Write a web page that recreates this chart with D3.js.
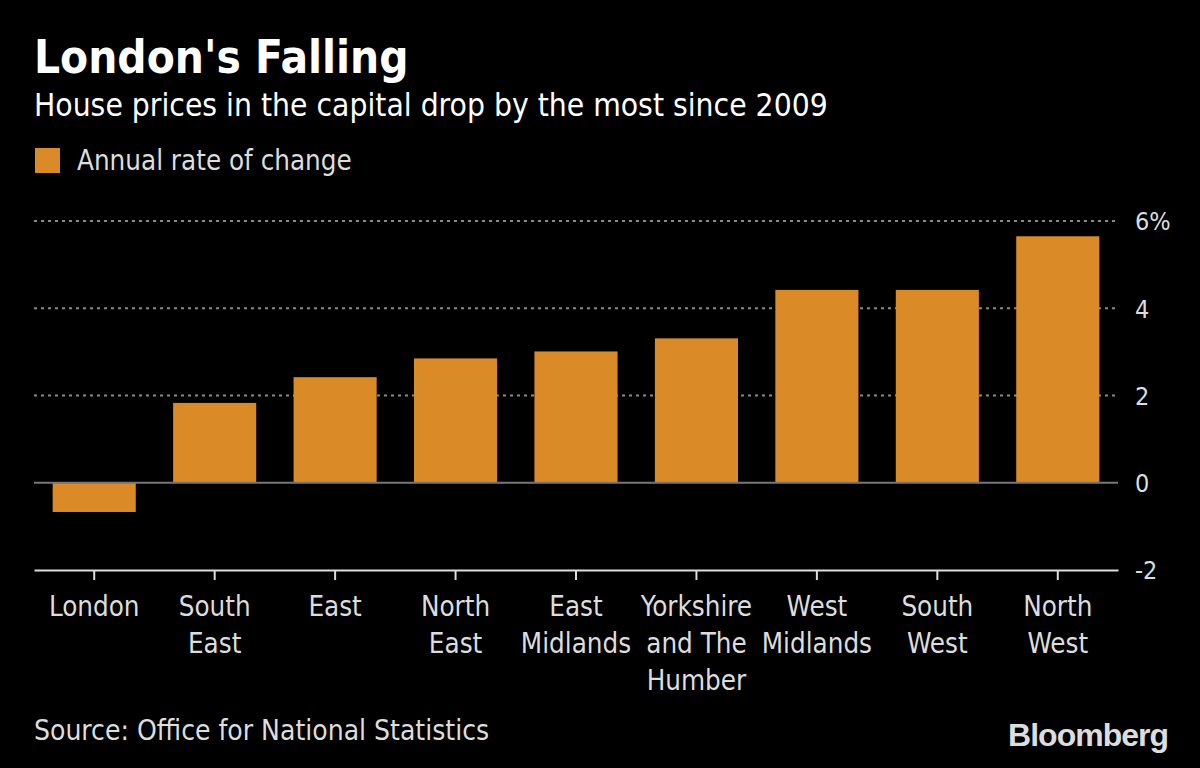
<!DOCTYPE html>
<html>
<head>
<meta charset="utf-8">
<script src="https://cdn.jsdelivr.net/npm/d3@7"></script>
<style>
  html, body { margin: 0; padding: 0; background: #000; }
  svg { display: block; }
</style>
</head>
<body>
<script>
const categories = [
  ["London"],
  ["South", "East"],
  ["East"],
  ["North", "East"],
  ["East", "Midlands"],
  ["Yorkshire", "and The", "Humber"],
  ["West", "Midlands"],
  ["South", "West"],
  ["North", "West"]
];
const values = [-0.67, 1.83, 2.42, 2.85, 3.01, 3.31, 4.42, 4.42, 5.65];
const yTicks = [-2, 0, 2, 4, 6];
const yTickLabels = ["-2", "0", "2", "4", "6%"];

const W = 1200, H = 768;
const font = "'Liberation Sans Narrow', 'DejaVu Sans Condensed', 'Open Sans', sans-serif";
const svg = d3.select("body").append("svg").attr("width", W).attr("height", H)
  .style("background", "#000");

const keys = categories.map(c => c.join(" "));
const x = d3.scaleBand().domain(keys).range([34, 1118]).paddingInner(0.31).paddingOuter(0.155);
const y = d3.scaleLinear().domain([-2, 6]).range([570, 221]);

// title
svg.append("text").attr("x", 34).attr("y", 73).text("London's Falling")
  .attr("fill", "#fff").attr("font-family", font).attr("font-weight", "bold").attr("font-size", 45.5);
svg.append("text").attr("x", 34).attr("y", 116).text("House prices in the capital drop by the most since 2009")
  .attr("fill", "#fff").attr("font-family", font).attr("font-size", 31.5);

// legend
svg.append("rect").attr("x", 35).attr("y", 148).attr("width", 25).attr("height", 25).attr("fill", "#DA8A27");
svg.append("text").attr("x", 77).attr("y", 170).text("Annual rate of change")
  .attr("fill", "#ddd").attr("font-family", font).attr("font-size", 27.5);

// gridlines
const grid = yTicks.filter(t => t > 0);
svg.append("g").selectAll("line").data(grid).join("line")
  .attr("x1", 34).attr("x2", 1118)
  .attr("y1", d => y(d)).attr("y2", d => y(d))
  .attr("stroke", "#8a8a8a").attr("stroke-width", 2).attr("stroke-dasharray", "3,4");

// bars
svg.append("g").selectAll("rect").data(values).join("rect")
  .attr("x", (d, i) => x(keys[i]))
  .attr("width", x.bandwidth())
  .attr("y", d => y(Math.max(0, d)))
  .attr("height", d => Math.abs(y(d) - y(0)))
  .attr("fill", "#DA8A27");

// zero line
svg.append("line").attr("x1", 34).attr("x2", 1118).attr("y1", y(0)).attr("y2", y(0))
  .attr("stroke", "#777").attr("stroke-width", 2);

// y axis labels
const yAxis = d3.axisRight(y).tickValues(yTicks).tickSize(0).tickPadding(0)
  .tickFormat((d, i) => yTickLabels[i]);
const ya = svg.append("g").attr("transform", "translate(1135,0)").call(yAxis);
ya.select(".domain").remove();
ya.selectAll("text").attr("fill", "#ddd").attr("font-family", font).attr("font-size", 25).attr("dy", "0.35em");

// x axis
const xAxis = d3.axisBottom(x).tickSize(10).tickSizeOuter(0).tickFormat("");
const xa = svg.append("g").attr("transform", `translate(0,${y(-2)})`).call(xAxis);
xa.select(".domain").attr("stroke", "#ddd").attr("stroke-width", 2);
xa.selectAll(".tick line").attr("stroke", "#ddd").attr("stroke-width", 2);

const labels = svg.append("g").selectAll("text").data(categories).join("text")
  .attr("text-anchor", "middle")
  .attr("fill", "#ddd").attr("font-family", font).attr("font-size", 27.5)
  .attr("x", (d, i) => x(keys[i]) + x.bandwidth() / 2)
  .attr("y", 616);
labels.selectAll("tspan").data(d => d).join("tspan")
  .attr("x", function() { return this.parentNode.getAttribute("x"); })
  .attr("dy", (d, i) => i === 0 ? 0 : 37)
  .text(d => d);

// source
svg.append("text").attr("x", 34).attr("y", 740).text("Source: Office for National Statistics")
  .attr("fill", "#ddd").attr("font-family", font).attr("font-size", 28);
svg.append("text").attr("x", 1168).attr("y", 746).attr("text-anchor", "end").text("Bloomberg")
  .attr("fill", "#ddd").attr("font-family", "'Liberation Sans', Arial, sans-serif").attr("font-weight", "bold")
  .attr("font-size", 32).attr("letter-spacing", -1);
</script>
</body>
</html>
